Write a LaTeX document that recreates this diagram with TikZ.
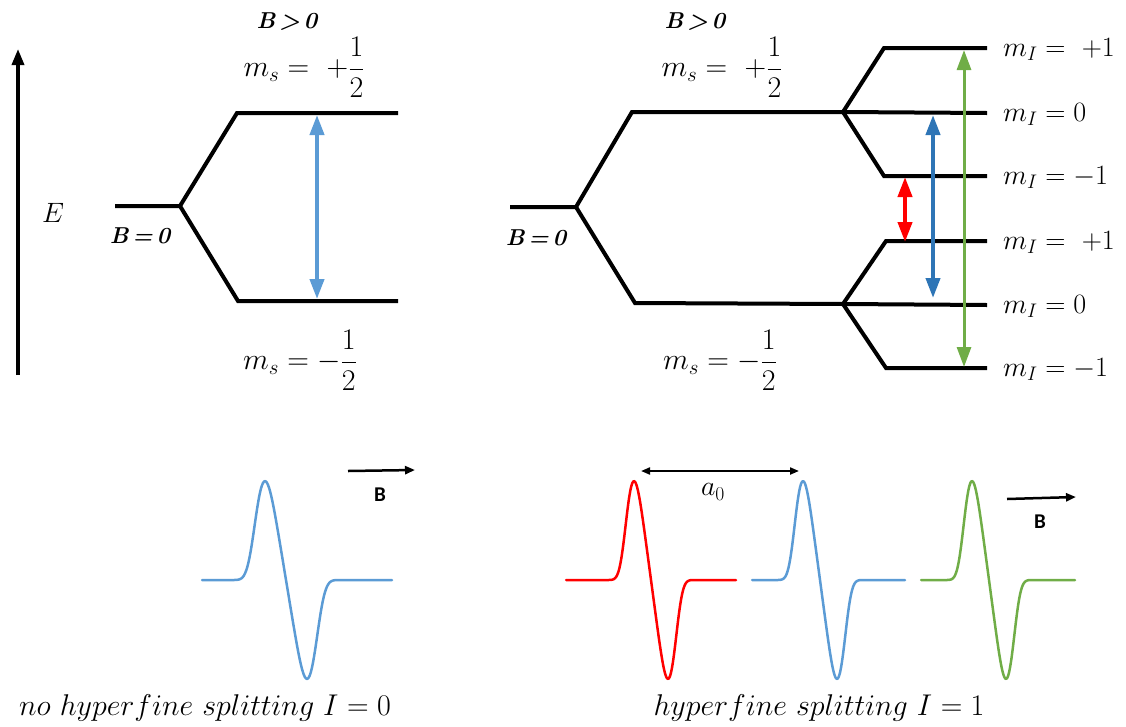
\RequirePackage{fix-cm}
\documentclass[tikz,border=0pt]{standalone}
\usepackage{amsmath}
\usepackage{fontspec}
\newfontfamily\carlito{Carlito}
\usetikzlibrary{arrows.meta}
\definecolor{lblue}{HTML}{5B9BD5}
\definecolor{dblue}{HTML}{2E75B6}
\definecolor{lgreen}{HTML}{70AD47}
\definecolor{lred}{HTML}{FF0000}
\begin{document}
\begin{tikzpicture}[x=1pt,y=-1pt,
  declare function={dg(\u)=-\u*exp(-0.25*\u*\u*\u*\u);},
  lvl/.style={line width=4pt, line join=miter, line cap=butt},
  trans/.style={line width=4pt, {Triangle[length=20pt,width=14pt]}-{Triangle[length=20pt,width=14pt]}},
  eaxis/.style={line width=3.5pt, -{Triangle[length=16pt,width=12pt]}},
  thinarr/.style={line width=2.5pt, -{Triangle[length=10pt,width=8pt]}},
  dbl/.style={line width=2pt, {Triangle[length=9pt,width=7pt]}-{Triangle[length=9pt,width=7pt]}},
  spec/.style={line width=2.5pt, line join=round, line cap=round},
  lab/.style={font=\fontsize{28}{32}\selectfont, inner sep=0pt},
  mslab/.style={font=\fontsize{30}{34}\selectfont, inner sep=0pt},
  boldlab/.style={font=\fontsize{23}{27}\selectfont\bfseries\itshape, inner sep=0pt},
  blab/.style={font=\fontsize{21}{24}\selectfont\carlito\bfseries, inner sep=0pt},
  captxt/.style={font=\fontsize{30}{34}\selectfont, inner sep=0pt}]
\useasboundingbox (0,0) rectangle (1126,726);

% ---------- energy axis ----------
\coordinate (Ebot) at (18,375);
\coordinate (Etop) at (18,49);
\draw[eaxis] (Ebot) -- (Etop);
\node[lab] (E) at (53,213) {$E$};

% ---------- left diagram ----------
\coordinate (L0) at (115,206);
\coordinate (Lb) at (180,206);
\coordinate (Lu) at (237,113);
\coordinate (Lue) at (398,113);
\coordinate (Ld) at (238,301);
\coordinate (Lde) at (398,301);
\draw[lvl] (L0) -- (Lb) -- (Lu) -- (Lue);
\draw[lvl] (Lb) -- (Ld) -- (Lde);
\coordinate (LAt) at (317,115);
\coordinate (LAb) at (317,299);
\draw[trans, lblue] (LAt) -- (LAb);
\node[boldlab] (LBg) at (287,22) {B\,>\,0};
\node[mslab] (Lmsp) at (304,67) {$m_s =\ +\dfrac{1}{2}$};
\node[boldlab] (LB0) at (140,236) {B\,=\,0};
\node[mslab] (Lmsm) at (300,360) {$m_s = -\dfrac{1}{2}$};

% ---------- right diagram ----------
\coordinate (R0) at (510,207);
\coordinate (Rb) at (576,207);
\coordinate (Ru) at (632,112);
\coordinate (Rs1) at (843,112);
\coordinate (Rd) at (635,303);
\coordinate (Rs2) at (843,304);
\draw[lvl] (R0) -- (Rb) -- (Ru) -- (Rs1);
\draw[lvl] (Rb) -- (Rd) -- (Rs2);
% upper hyperfine
\coordinate (U1a) at (884,48);  \coordinate (U1b) at (987,48);
\coordinate (U2b) at (987,113);
\coordinate (U3a) at (884,176); \coordinate (U3b) at (987,176);
\draw[lvl] (Rs1) -- (U1a) -- (U1b);
\draw[lvl] (Rs1) -- (U2b);
\draw[lvl] (Rs1) -- (U3a) -- (U3b);
% lower hyperfine
\coordinate (D1a) at (886,241); \coordinate (D1b) at (987,241);
\coordinate (D2b) at (987,305);
\coordinate (D3a) at (886,368); \coordinate (D3b) at (987,368);
\draw[lvl] (Rs2) -- (D1a) -- (D1b);
\draw[lvl] (Rs2) -- (D2b);
\draw[lvl] (Rs2) -- (D3a) -- (D3b);
% transitions
\coordinate (Gt) at (964,50);  \coordinate (Gb) at (964,367);
\coordinate (Bt) at (933,115); \coordinate (Bb) at (933,298);
\coordinate (Rt) at (905,177); \coordinate (Rbt) at (905,242);
\draw[trans, lgreen, line width=3pt] (Gt) -- (Gb);
\draw[trans, dblue] (Bt) -- (Bb);
\draw[trans, lred] (Rt) -- (Rbt);
% labels
\node[boldlab] (RBg) at (695,22) {B\,>\,0};
\node[mslab] (Rmsp) at (722,67) {$m_s =\ +\dfrac{1}{2}$};
\node[boldlab] (RB0) at (536,238) {B\,=\,0};
\node[mslab] (Rmsm) at (720,360) {$m_s = -\dfrac{1}{2}$};
\node[lab, anchor=base west] (mI1) at (1003,56) {$m_I =\ +1$};
\node[lab, anchor=base west] (mI2) at (1003,121) {$m_I = 0$};
\node[lab, anchor=base west] (mI3) at (1003,184) {$m_I = -1$};
\node[lab, anchor=base west] (mI4) at (1003,249) {$m_I =\ +1$};
\node[lab, anchor=base west] (mI5) at (1003,313) {$m_I = 0$};
\node[lab, anchor=base west] (mI6) at (1003,376) {$m_I = -1$};

% ---------- spectra ----------
\draw[spec, lblue] plot[domain=202:392, samples=160, smooth] (\x, {580 - 127*dg((\x-286)/21)});
\coordinate (Bl1) at (348,471); \coordinate (Bl2) at (415,470);
\draw[thinarr] (Bl1) -- (Bl2);
\node[blab] (BL) at (380,495) {B};
\node[captxt] (capL) at (205,708) {$no\ hyperfine\ splitting\ I = 0$};

\draw[spec, lred] plot[domain=566:736, samples=160, smooth] (\x, {580 - 127*dg((\x-651)/17)});
\draw[spec, lblue] plot[domain=752:905, samples=160, smooth] (\x, {580 - 127*dg((\x-820)/17)});
\draw[spec, lgreen] plot[domain=921:1075, samples=160, smooth] (\x, {580 - 127*dg((\x-989)/17)});
\coordinate (A1) at (641,471); \coordinate (A2) at (799,471);
\draw[dbl] (A1) -- (A2);
\node[lab] (a0) at (713,492) {$a_0$};
\coordinate (Br1) at (1007,499); \coordinate (Br2) at (1076,497);
\draw[thinarr] (Br1) -- (Br2);
\node[blab] (BR) at (1040,522) {B};
\node[captxt] (capR) at (819,708) {$hyperfine\ splitting\ I = 1$};
\end{tikzpicture}
\end{document}
